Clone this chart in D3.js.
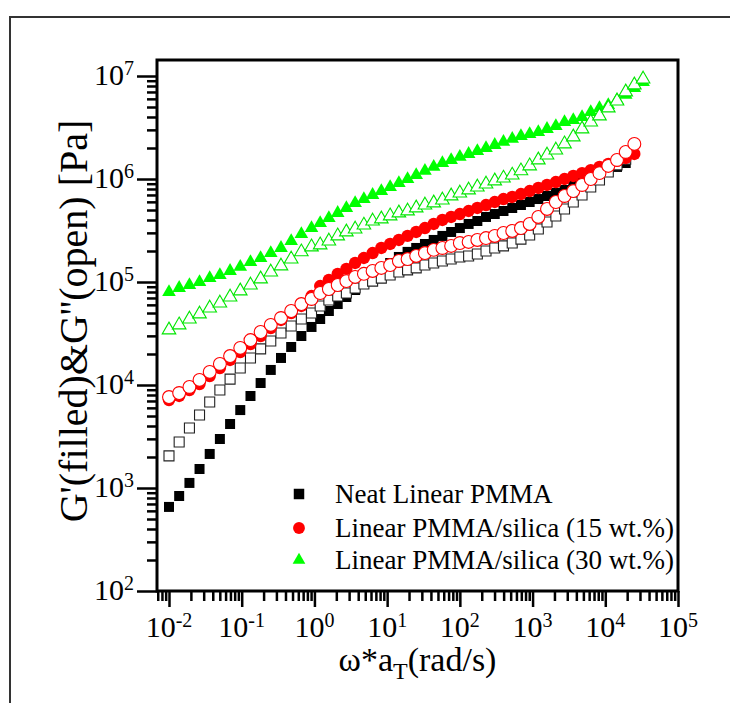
<!DOCTYPE html>
<html>
<head>
<meta charset="utf-8">
<script src="https://cdn.jsdelivr.net/npm/d3@7"></script>
<style>
  html, body { margin: 0; padding: 0; background: #fff; }
  svg { display: block; }
</style>
</head>
<body>
<div id="chart"></div>
<script>
// angular frequency grid (rad/s), shared by all samples
const omega = [0.0100, 0.0138, 0.0191, 0.0263, 0.0363, 0.0501, 0.0692, 0.0955, 0.132, 0.182,
  0.251, 0.347, 0.479, 0.661, 0.912, 1.20, 1.58, 2.09, 2.75, 3.63, 4.79, 6.31, 8.32, 11.0,
  14.5, 19.1, 25.1, 33.1, 43.7, 57.5, 75.9, 100, 132, 174, 229, 302, 398, 525, 692, 912,
  1200, 1580, 2090, 2750, 3630, 4790, 6310, 8320, 11000, 14500, 19100, 25100, 33100];

// neat linear PMMA
const gpNeat = [655, 836, 1120, 1530, 2140, 2990, 4180, 5710, 7820, 1.045e4, 1.40e4, 1.83e4,
  2.34e4, 2.99e4, 3.66e4, 4.37e4, 5.23e4, 6.11e4, 7.15e4, 8.36e4, 9.78e4, 1.14e5, 1.34e5,
  1.53e5, 1.75e5, 1.96e5, 2.14e5, 2.34e5, 2.56e5, 2.80e5, 3.06e5, 3.34e5, 3.66e5, 3.91e5,
  4.28e5, 4.57e5, 4.89e5, 5.23e5, 5.59e5, 5.98e5, 6.39e5, 6.84e5, 7.31e5, 7.82e5, 8.55e5,
  9.35e5, 1.02e6, 1.09e6, 1.20e6, 1.31e6, 1.43e6];
const gppNeat = [2050, 2800, 3830, 5110, 6840, 8940, 1.14e4, 1.46e4, 1.83e4, 2.24e4, 2.67e4,
  3.20e4, 3.74e4, 4.37e4, 5.00e4, 5.85e4, 6.69e4, 7.31e4, 7.82e4, 8.75e4, 9.57e4, 1.02e5,
  1.09e5, 1.17e5, 1.25e5, 1.31e5, 1.37e5, 1.46e5, 1.53e5, 1.60e5, 1.67e5, 1.75e5, 1.79e5,
  1.87e5, 2.00e5, 2.14e5, 2.24e5, 2.39e5, 2.61e5, 2.86e5, 3.27e5, 3.83e5, 4.38e5, 5.12e5,
  5.98e5, 7.00e5, 8.36e5, 9.78e5, 1.17e6, 1.37e6, 1.56e6];

// PMMA/silica 15 wt.%
const gp15 = [7150, 7820, 8940, 1.02e4, 1.22e4, 1.46e4, 1.75e4, 2.09e4, 2.50e4, 2.99e4,
  3.57e4, 4.28e4, 5.00e4, 5.85e4, 7.31e4, 9.14e4, 1.05e5, 1.20e5, 1.34e5, 1.53e5, 1.71e5,
  1.91e5, 2.14e5, 2.34e5, 2.56e5, 2.80e5, 3.06e5, 3.34e5, 3.66e5, 4.00e5, 4.28e5, 4.57e5,
  4.89e5, 5.23e5, 5.59e5, 5.98e5, 6.39e5, 6.69e5, 7.15e5, 7.64e5, 8.18e5, 8.75e5, 9.35e5,
  1.00e6, 1.07e6, 1.14e6, 1.22e6, 1.31e6, 1.40e6, 1.50e6, 1.60e6, 1.75e6];
const gpp15 = [7640, 8360, 9570, 1.12e4, 1.34e4, 1.60e4, 1.91e4, 2.29e4, 2.73e4, 3.27e4,
  3.83e4, 4.47e4, 5.23e4, 6.11e4, 6.84e4, 7.82e4, 8.55e4, 9.35e4, 1.02e5, 1.12e5, 1.20e5,
  1.28e5, 1.37e5, 1.46e5, 1.60e5, 1.67e5, 1.79e5, 1.91e5, 2.05e5, 2.14e5, 2.24e5, 2.39e5,
  2.45e5, 2.56e5, 2.67e5, 2.80e5, 2.99e5, 3.13e5, 3.34e5, 3.66e5, 4.28e5, 5.12e5, 5.98e5,
  6.84e5, 7.64e5, 8.75e5, 1.00e6, 1.14e6, 1.34e6, 1.53e6, 1.83e6, 2.19e6];

// PMMA/silica 30 wt.%
const gp30 = [8.00e4, 8.75e4, 9.35e4, 1.00e5, 1.09e5, 1.17e5, 1.28e5, 1.40e5, 1.56e5, 1.71e5,
  1.91e5, 2.14e5, 2.50e5, 2.92e5, 3.34e5, 3.74e5, 4.18e5, 4.68e5, 5.23e5, 5.85e5, 6.39e5,
  7.00e5, 7.64e5, 8.36e5, 9.14e5, 1.00e6, 1.09e6, 1.20e6, 1.31e6, 1.43e6, 1.53e6, 1.64e6,
  1.75e6, 1.87e6, 2.00e6, 2.14e6, 2.29e6, 2.45e6, 2.61e6, 2.73e6, 2.86e6, 3.06e6, 3.27e6,
  3.57e6, 3.74e6, 4.00e6, 4.47e6, 4.89e6, 5.23e6, 5.85e6, 6.55e6, 7.64e6, 8.75e6];
const gpp30 = [3.42e4, 3.83e4, 4.37e4, 4.89e4, 5.59e4, 6.25e4, 7.15e4, 8.18e4, 9.35e4, 1.07e5,
  1.25e5, 1.43e5, 1.67e5, 1.96e5, 2.19e5, 2.29e5, 2.50e5, 2.80e5, 3.06e5, 3.27e5, 3.57e5,
  3.91e5, 4.09e5, 4.38e5, 4.68e5, 4.89e5, 5.23e5, 5.59e5, 5.85e5, 6.25e5, 6.84e5, 7.31e5,
  7.82e5, 8.36e5, 8.94e5, 9.57e5, 1.02e6, 1.09e6, 1.20e6, 1.34e6, 1.53e6, 1.71e6, 1.91e6,
  2.19e6, 2.56e6, 3.06e6, 3.57e6, 4.09e6, 4.89e6, 5.71e6, 7.00e6, 8.18e6, 9.35e6];

const xTickExp = [-2, -1, 0, 1, 2, 3, 4, 5];
const yTickExp = [2, 3, 4, 5, 6, 7];
const legendLabels = ["Neat Linear PMMA", "Linear PMMA/silica (15 wt.%)", "Linear PMMA/silica (30 wt.%)"];

const W = 730, H = 703;
const plot = { left: 157, right: 678, top: 60, bottom: 591 };
const FONT = "'Liberation Serif', 'Times New Roman', serif";

const svg = d3.select("#chart").append("svg")
  .attr("width", W).attr("height", H)
  .style("font-family", FONT);

svg.append("rect").attr("width", W).attr("height", H).attr("fill", "#fff");

// outer page frame
svg.append("rect")
  .attr("x", 10).attr("y", 17).attr("width", 760).attr("height", 720)
  .attr("fill", "none").attr("stroke", "#333").attr("stroke-width", 2);

const x = d3.scaleLog().domain([0.00684, 1e5]).range([plot.left, plot.right]);
const y = d3.scaleLog().domain([1e2, 1.43e7]).range([plot.bottom, plot.top]);

function minors(lo, hi) {
  const out = [];
  for (let e = lo; e <= hi; e++) for (let m = 2; m <= 9; m++) out.push(m * Math.pow(10, e));
  return out;
}
const xMinor = minors(-3, 4).filter(v => v > x.domain()[0] && v < x.domain()[1]);
const yMinor = minors(2, 7).filter(v => v > y.domain()[0] && v < y.domain()[1]);

function styleAxis(g) {
  g.select(".domain").remove();
  g.selectAll(".tick line").attr("stroke", "#000").attr("stroke-width", 2.5);
}

// x axis ticks
svg.append("g").attr("transform", `translate(0,${plot.bottom})`)
  .call(d3.axisBottom(x).tickValues(xMinor).tickSize(10).tickFormat(""))
  .call(styleAxis);
svg.append("g").attr("transform", `translate(0,${plot.bottom})`)
  .call(d3.axisBottom(x).tickValues(xTickExp.map(e => Math.pow(10, e))).tickSize(16).tickFormat(""))
  .call(styleAxis);

// y axis ticks
svg.append("g").attr("transform", `translate(${plot.left},0)`)
  .call(d3.axisLeft(y).tickValues(yMinor).tickSize(10).tickFormat(""))
  .call(styleAxis);
svg.append("g").attr("transform", `translate(${plot.left},0)`)
  .call(d3.axisLeft(y).tickValues(yTickExp.map(e => Math.pow(10, e))).tickSize(20).tickFormat(""))
  .call(styleAxis);

// power-of-ten tick labels
function powLabel(sel, e) {
  sel.append("tspan").text("10");
  sel.append("tspan").attr("font-size", 20).attr("dy", -10).text(e < 0 ? "-" + (-e) : String(e));
}
svg.append("g").selectAll("text").data(xTickExp).join("text")
  .attr("x", e => x(Math.pow(10, e)))
  .attr("y", plot.bottom + 46)
  .attr("text-anchor", "middle")
  .attr("font-size", 30)
  .each(function (e) { powLabel(d3.select(this), e); });

svg.append("g").selectAll("text").data(yTickExp).join("text")
  .attr("x", plot.left - 23)
  .attr("y", e => y(Math.pow(10, e)) + 9)
  .attr("text-anchor", "end")
  .attr("font-size", 30)
  .each(function (e) { powLabel(d3.select(this), e); });

// axis titles
const xt = svg.append("text")
  .attr("x", (plot.left + plot.right) / 2).attr("y", plot.bottom + 80)
  .attr("text-anchor", "middle").attr("font-size", 34);
xt.append("tspan").text("ω*a");
xt.append("tspan").attr("font-size", 24).attr("dy", 8).text("T");
xt.append("tspan").attr("dy", -8).text("(rad/s)");

svg.append("text")
  .attr("transform", "translate(87,321) rotate(-90)")
  .attr("text-anchor", "middle").attr("font-size", 40)
  .text("G'(filled)&G''(open) [Pa]");

// data
svg.append("clipPath").attr("id", "clip")
  .append("rect").attr("x", plot.left).attr("y", plot.top)
  .attr("width", plot.right - plot.left).attr("height", plot.bottom - plot.top);

const series = [
  { vals: gpNeat, type: d3.symbolSquare, size: 100, color: "#000", open: false },
  { vals: gppNeat, type: d3.symbolSquare, size: 100, color: "#222", open: true },
  { vals: gp15, type: d3.symbolCircle, size: 120, color: "#ff0000", open: false },
  { vals: gpp15, type: d3.symbolCircle, size: 130, color: "#ff0000", open: true },
  { vals: gp30, type: d3.symbolTriangle, size: 80, color: "#00ff00", open: false },
  { vals: gpp30, type: d3.symbolTriangle, size: 80, color: "#00e600", open: true }
];

const gData = svg.append("g").attr("clip-path", "url(#clip)");
series.forEach(s => {
  gData.append("g").selectAll("path")
    .data(s.vals.map((v, i) => [omega[i], v]))
    .join("path")
    .attr("transform", d => `translate(${x(d[0])},${y(d[1])})`)
    .attr("d", d3.symbol().type(s.type).size(s.size))
    .attr("fill", s.open ? "#fff" : s.color)
    .attr("stroke", s.open ? s.color : "none")
    .attr("stroke-width", 1.1);
});

// plot frame
svg.append("rect")
  .attr("x", plot.left).attr("y", plot.top)
  .attr("width", plot.right - plot.left).attr("height", plot.bottom - plot.top)
  .attr("fill", "none").attr("stroke", "#000").attr("stroke-width", 3);

// legend
const legend = svg.append("g").attr("transform", "translate(299,494)");
const legSym = [
  { type: d3.symbolSquare, size: 110, color: "#000" },
  { type: d3.symbolCircle, size: 110, color: "#ff0000" },
  { type: d3.symbolTriangle, size: 70, color: "#00ff00" }
];
const rowY = [0, 34, 66];
legendLabels.forEach((lab, i) => {
  legend.append("path")
    .attr("transform", `translate(0,${rowY[i]})`)
    .attr("d", d3.symbol().type(legSym[i].type).size(legSym[i].size))
    .attr("fill", legSym[i].color);
  legend.append("text")
    .attr("x", 36).attr("y", rowY[i] + 9)
    .attr("font-size", 27)
    .text(lab);
});
</script>
</body>
</html>
